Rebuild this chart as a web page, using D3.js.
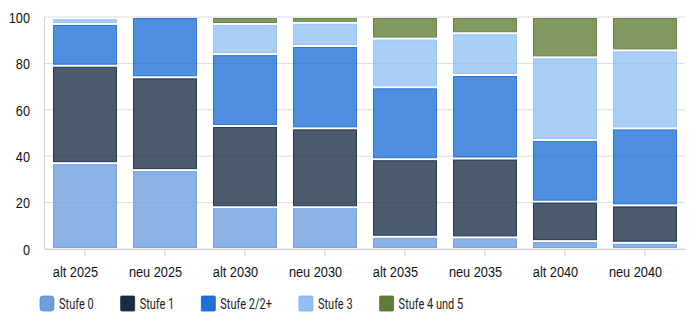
<!DOCTYPE html>
<html>
<head>
<meta charset="utf-8">
<script src="https://cdn.jsdelivr.net/npm/d3@7"></script>
<style>
  body { margin: 0; background: #fff; }
  svg { display: block; font-family: Roboto, "Liberation Sans", sans-serif; }
  .grid line { stroke: #dcdcdc; }
  .tick text { fill: #111; }
</style>
</head>
<body>
<script>
var categories = ["alt 2025", "neu 2025", "alt 2030", "neu 2030", "alt 2035", "neu 2035", "alt 2040", "neu 2040"];
var seriesNames = ["Stufe 0", "Stufe 1", "Stufe 2/2+", "Stufe 3", "Stufe 4 und 5"];
var seriesColors = ["#6c9edf", "#1a2c46", "#1f6fd6", "#92c0f3", "#5f7c38"];

// share per category, one array per level
var stufe0 = [37, 34, 18, 18, 5.3, 5, 3.4, 2.7];
var stufe1 = [42, 40, 35, 34, 33.4, 34, 17, 16.1];
var stufe2 = [18, 26, 31, 35.5, 31, 36, 26.6, 33.2];
var stufe3 = [2.5, 0, 13, 10, 21, 18, 35.6, 33.6];
var stufe45 = [0.5, 0, 3, 2.5, 9.3, 7, 17.4, 14.4];
var yTicks = [0, 20, 40, 60, 80, 100];

var rows = categories.map(function(c, i) {
  return {cat: c, "Stufe 0": stufe0[i], "Stufe 1": stufe1[i], "Stufe 2/2+": stufe2[i],
          "Stufe 3": stufe3[i], "Stufe 4 und 5": stufe45[i]};
});

var width = 700, height = 324;
var margin = {top: 17, right: 15, bottom: 75, left: 45};
var squeeze = 0.85; // narrow glyphs, condensed look

var svg = d3.select("body").append("svg")
  .attr("width", width)
  .attr("height", height);

var x = d3.scaleBand()
  .domain(categories)
  .range([margin.left, width - margin.right])
  .paddingInner(0.2)
  .paddingOuter(0.1);

var y = d3.scaleLinear()
  .domain([0, 100])
  .range([height - margin.bottom, margin.top]);

var color = d3.scaleOrdinal().domain(seriesNames).range(seriesColors);

// horizontal grid
svg.append("g")
  .attr("class", "grid")
  .selectAll("line")
  .data(yTicks)
  .enter().append("line")
  .attr("x1", margin.left)
  .attr("x2", width - margin.right)
  .attr("y1", d => y(d))
  .attr("y2", d => y(d));

// y axis
var yAxis = svg.append("g")
  .attr("transform", "translate(" + (margin.left - 1) + ",0)")
  .call(d3.axisLeft(y).tickValues(yTicks).tickSize(0));
yAxis.select(".domain").attr("stroke", "#d0d0d0");
yAxis.selectAll("text")
  .style("font-size", "15px")
  .attr("x", -14 / squeeze)
  .attr("dy", "0.35em")
  .attr("transform", "scale(" + squeeze + ",1)");

// stacked bars
var stack = d3.stack().keys(seriesNames)(rows);
var gap = 1;

svg.append("g")
  .selectAll("g")
  .data(stack)
  .enter().append("g")
  .attr("fill", d => color(d.key))
  .attr("stroke", d => color(d.key))
  .selectAll("rect")
  .data(d => d.filter(s => s[1] - s[0] > 0))
  .enter().append("rect")
  .attr("x", d => x(d.data.cat) + 0.5)
  .attr("width", x.bandwidth() - 1)
  .attr("y", d => y(d[1]) + gap + 0.5)
  .attr("height", d => Math.max(0, y(d[0]) - y(d[1]) - 2 * gap - 1))
  .attr("fill-opacity", 0.78)
  .attr("stroke-opacity", 0.9)
  .attr("stroke-width", 1);

// x axis, labels sit a little left of their tick
var xAxis = svg.append("g")
  .attr("transform", "translate(0," + (height - margin.bottom) + ")")
  .call(d3.axisBottom(x).tickSizeOuter(0).tickSizeInner(7).tickPadding(10));
xAxis.select(".domain").attr("stroke", "#d0d0d0");
xAxis.selectAll(".tick line").attr("stroke", "#d0d0d0");
xAxis.selectAll("text")
  .style("font-size", "15px")
  .attr("x", -9.5 / squeeze)
  .attr("transform", "scale(" + squeeze + ",1)");

// legend
var legend = svg.append("g").attr("transform", "translate(40,296)");
var legendSqueeze = 0.76;
var lx = 0;
seriesNames.forEach(function(name, i) {
  var item = legend.append("g").attr("transform", "translate(" + lx + ",0)");
  item.append("rect")
    .attr("width", 14)
    .attr("height", 15)
    .attr("rx", i === 0 ? 3 : 1)
    .attr("fill", seriesColors[i])
    .attr("stroke", d3.color(seriesColors[i]).darker(0.3))
    .attr("stroke-width", 0.8);
  var t = item.append("text")
    .attr("transform", "translate(19,13) scale(" + legendSqueeze + ",1)")
    .style("font-size", "14.5px")
    .attr("fill", "#222")
    .text(name);
  lx += 19 + t.node().getComputedTextLength() * legendSqueeze + 27;
});
</script>
</body>
</html>
